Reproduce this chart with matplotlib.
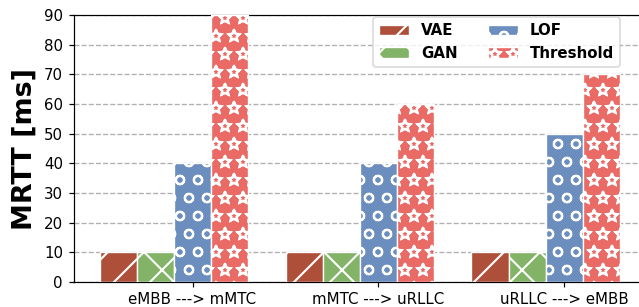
import matplotlib
matplotlib.use("Agg")
import matplotlib.pyplot as plt
import matplotlib.hatch as mhatch
import numpy as np

categories = ["eMBB ---> mMTC", "mMTC ---> uRLLC", "uRLLC ---> eMBB"]
series_names = ["VAE", "GAN", "LOF", "Threshold"]
vae = [10, 10, 10]
gan = [10, 10, 10]
lof = [40, 40, 50]
threshold = [90, 60, 70]
yticks = [0, 10, 20, 30, 40, 50, 60, 70, 80, 90]

colors = ["#ae4f3a", "#82b366", "#6c8ebf", "#ea6b66"]
hatches = ["/", "x", "o", "*"]

# outlined stars and slightly larger rings like in the reference
mhatch.Stars.filled = False
mhatch.SmallCircles.size = 0.24

plt.rcParams['hatch.linewidth'] = 1.4

DPI = 108
fig = plt.figure(figsize=(639 / DPI, 307 / DPI), dpi=DPI)
ax = fig.add_axes([73.5 / 639, 25 / 307, (646.3 - 73.5) / 639, 267 / 307])

x = np.arange(len(categories))
w = 0.2
all_series = [vae, gan, lof, threshold]
offsets = [-2, -1, 0, 1]
for vals, name, c, h, off in zip(all_series, series_names, colors, hatches, offsets):
    ax.bar(x + off * w, vals, w, label=name, color=c, hatch=h,
           edgecolor="white", linewidth=0.9, zorder=3)

ax.set_ylim(0, 90)
ax.set_yticks(yticks)
ax.set_xticks(x)
ax.set_xticklabels(categories, fontsize=10)
ax.tick_params(axis='y', labelsize=10)
ax.set_ylabel("MRTT [ms]", fontsize=18, fontweight='bold')
ax.yaxis.grid(True, linestyle='--', color='#b0b0b0', linewidth=0.9)
ax.set_axisbelow(True)

leg = ax.legend(ncol=2, loc='upper right', bbox_to_anchor=(620 / 639, 1 - 17 / 307),
                bbox_transform=fig.transFigure, borderaxespad=0,
                prop={'weight': 'bold', 'size': 10})

fig.savefig("out.png", dpi=DPI)
